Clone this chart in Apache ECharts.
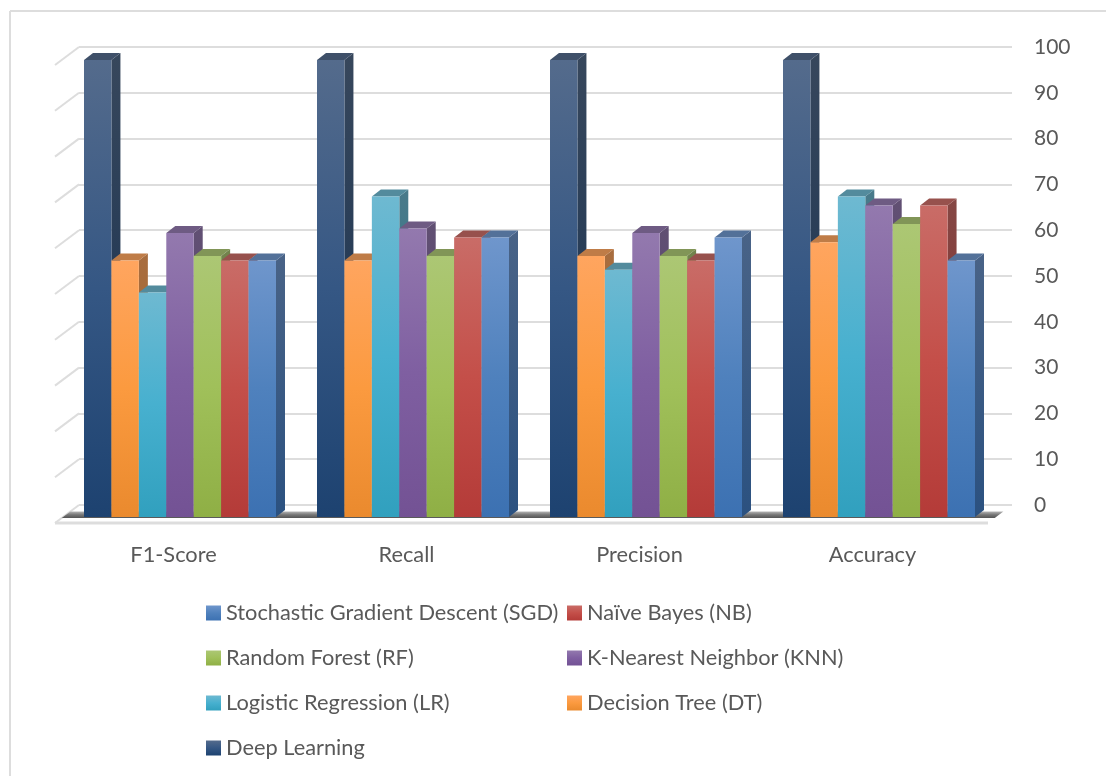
<!DOCTYPE html>
<html>
<head>
<meta charset="utf-8">
<title>Model comparison</title>
<script src="https://cdn.jsdelivr.net/npm/echarts@6/dist/echarts.min.js"></script>
<style>
  html, body { margin: 0; padding: 0; background: #fff; }
  #chart { width: 1106px; height: 776px; }
</style>
</head>
<body>
<div id="chart"></div>
<script>
// Metrics along the category axis
const categories = ['F1-Score', 'Recall', 'Precision', 'Accuracy'];

// Scores per model, in category order
const deepLearning = [99.8, 99.8, 99.8, 99.8];
const decisionTree = [56, 56, 57, 60];
const logisticRegression = [49, 70, 54, 70];
const knn = [62, 63, 62, 68];
const randomForest = [57, 57, 57, 64];
const naiveBayes = [56, 61, 56, 68];
const sgd = [56, 61, 61, 56];

const yTicks = [0, 10, 20, 30, 40, 50, 60, 70, 80, 90, 100];

// Colour ramps (top, middle, bottom of a column's front face)
const ramps = {
  'Deep Learning': ['#546B8C', '#355784', '#1D4270'],
  'Decision Tree (DT)': ['#FFA55F', '#FB9A3F', '#EA8A2E'],
  'Logistic Regression (LR)': ['#6EB9D1', '#47B0CF', '#31A0BE'],
  'K-Nearest Neighbor (KNN)': ['#9379AE', '#7F5FA1', '#735294'],
  'Random Forest (RF)': ['#ACC774', '#A0C05A', '#8FAF45'],
  'Naïve Bayes (NB)': ['#C96C67', '#C44F49', '#B43B38'],
  'Stochastic Gradient Descent (SGD)': ['#6F96CC', '#4F81BD', '#3C71B2']
};

const seriesValues = [
  ['Deep Learning', deepLearning],
  ['Decision Tree (DT)', decisionTree],
  ['Logistic Regression (LR)', logisticRegression],
  ['K-Nearest Neighbor (KNN)', knn],
  ['Random Forest (RF)', randomForest],
  ['Naïve Bayes (NB)', naiveBayes],
  ['Stochastic Gradient Descent (SGD)', sgd]
];

const legendLeft = ['Stochastic Gradient Descent (SGD)', 'Random Forest (RF)', 'Logistic Regression (LR)', 'Deep Learning'];
const legendRight = ['Naïve Bayes (NB)', 'K-Nearest Neighbor (KNN)', 'Decision Tree (DT)'];

const FONT = 'Lato';
const TEXT = '#595959';
const GRID_LINE = '#DDDDDD';

// Oblique projection: front of the floor relative to the back wall
const DEPTH = [-24, 18];
// Depth of a column, as a screen offset towards the back
const COL = [9, -7];
// Share of a category band taken by the seven adjoining columns
const GROUP_SHARE = 192 / 233;

function shade(hex, f) {
  const n = parseInt(hex.slice(1), 16);
  const c = [n >> 16, (n >> 8) & 255, n & 255].map(v => Math.round(v * f));
  return 'rgb(' + c.join(',') + ')';
}

function vertical(stops) {
  return new echarts.graphic.LinearGradient(0, 0, 0, 1,
    stops.map((c, i) => ({ offset: i / (stops.length - 1), color: c })));
}

function columnSeries(entry, index) {
  const name = entry[0];
  const ramp = ramps[name];
  return {
    name: name,
    type: 'custom',
    xAxisIndex: 1,
    yAxisIndex: 1,
    z: 5 + index,
    itemStyle: { color: vertical(ramp) },
    data: entry[1].map((v, i) => [i, v]),
    renderItem: function (params, api) {
      const top = api.coord([api.value(0), api.value(1)]);
      const base = api.coord([api.value(0), 0]);
      const band = api.size([1, 0])[0];
      const w = band * GROUP_SHARE / seriesValues.length;
      const x0 = top[0] - band * GROUP_SHARE / 2 + index * w;
      const x1 = x0 + w;
      const yT = top[1];
      const yB = base[1];
      return {
        type: 'group',
        children: [
          {
            type: 'polygon',
            shape: { points: [[x1, yB], [x1 + COL[0], yB + COL[1]], [x1 + COL[0], yT + COL[1]], [x1, yT]] },
            style: { fill: vertical([shade(ramp[0], 0.66), shade(ramp[2], 0.72)]) }
          },
          {
            type: 'polygon',
            shape: { points: [[x0, yT], [x0 + COL[0], yT + COL[1]], [x1 + COL[0], yT + COL[1]], [x1, yT]] },
            style: { fill: shade(ramp[0], 0.75) }
          },
          {
            type: 'rect',
            shape: { x: x0, y: yT, width: w, height: yB - yT },
            style: { fill: vertical(ramp) }
          }
        ]
      };
    }
  };
}

// Slanted grid lines on the left wall, plus the front edge of the floor
const wallSeries = {
  type: 'custom',
  xAxisIndex: 0,
  yAxisIndex: 0,
  z: 1,
  silent: true,
  data: yTicks.map(t => [0, t]),
  renderItem: function (params, api) {
    const p = api.coord([0, api.value(1)]);
    const children = [{
      type: 'line',
      shape: { x1: p[0], y1: p[1], x2: p[0] + DEPTH[0], y2: p[1] + DEPTH[1] },
      style: { stroke: GRID_LINE, lineWidth: 2 }
    }];
    if (api.value(1) === 0) {
      const r = api.coord([1, 0]);
      children.push({
        type: 'line',
        shape: { x1: p[0] + DEPTH[0], y1: p[1] + DEPTH[1], x2: r[0] + DEPTH[0], y2: r[1] + DEPTH[1] },
        style: { stroke: GRID_LINE, lineWidth: 3 }
      });
    }
    return { type: 'group', children: children };
  }
};

// Dark contact shadow under the columns, on the floor plane
const shadowSeries = {
  type: 'custom',
  xAxisIndex: 0,
  yAxisIndex: 0,
  z: 2,
  silent: true,
  data: [[0, 0]],
  renderItem: function (params, api) {
    const l = api.coord([0, 0]);
    const r = api.coord([1, 0]);
    const a = 0.36, b = 0.72;
    const pts = [
      [l[0] + DEPTH[0] * a, l[1] + DEPTH[1] * a],
      [r[0] + DEPTH[0] * a, r[1] + DEPTH[1] * a],
      [r[0] + DEPTH[0] * b, r[1] + DEPTH[1] * b],
      [l[0] + DEPTH[0] * b, l[1] + DEPTH[1] * b]
    ];
    return {
      type: 'polygon',
      shape: { points: pts },
      style: { fill: vertical(['#B5B5B5', '#777777', '#555555']) }
    };
  }
};

function legendOf(names, left) {
  return {
    data: names,
    orient: 'vertical',
    left: left,
    top: 597,
    itemWidth: 15,
    itemHeight: 15,
    itemGap: 23,
    icon: 'rect',
    selectedMode: false,
    textStyle: { fontFamily: FONT, fontSize: 21.8, color: TEXT }
  };
}

const chart = echarts.init(document.getElementById('chart'), null, { renderer: 'canvas' });
chart.setOption({
  animation: false,
  backgroundColor: '#fff',
  grid: [
    // Back wall, carries the value axis
    { left: 79, top: 47, width: 933, height: 458 },
    // Plane of the column fronts
    { left: 63.5, top: 59, width: 932, height: 458 },
    // Front edge of the floor, carries the category labels
    { left: 57, top: 65, width: 932, height: 458 }
  ],
  xAxis: [
    { gridIndex: 0, type: 'value', min: 0, max: 1, show: false },
    {
      gridIndex: 1,
      type: 'category',
      data: categories,
      show: false
    },
    {
      gridIndex: 2,
      type: 'category',
      data: categories,
      axisLine: { show: false },
      axisTick: { show: false },
      axisLabel: { margin: 21, fontFamily: FONT, fontSize: 21.8, color: TEXT, interval: 0 }
    }
  ],
  yAxis: [
    {
      gridIndex: 0,
      type: 'value',
      position: 'right',
      min: 0,
      max: 100,
      interval: 10,
      axisLine: { show: false },
      axisTick: { show: false },
      axisLabel: { margin: 22, fontFamily: FONT, fontSize: 21, color: TEXT, padding: [6, 0, 0, 0] },
      splitLine: { show: true, lineStyle: { color: GRID_LINE, width: 2 } }
    },
    { gridIndex: 1, type: 'value', min: 0, max: 100, show: false },
    { gridIndex: 2, type: 'value', min: 0, max: 100, show: false }
  ],
  legend: [legendOf(legendLeft, 201), legendOf(legendRight, 562)],
  series: [wallSeries, shadowSeries].concat(seriesValues.map(columnSeries)),
  graphic: [
    { type: 'line', shape: { x1: 10, y1: 11, x2: 10, y2: 776 }, style: { stroke: '#DDDDDD', lineWidth: 2 } },
    { type: 'line', shape: { x1: 10, y1: 11, x2: 1106, y2: 11 }, style: { stroke: '#DDDDDD', lineWidth: 2 } }
  ]
});
</script>
</body>
</html>
